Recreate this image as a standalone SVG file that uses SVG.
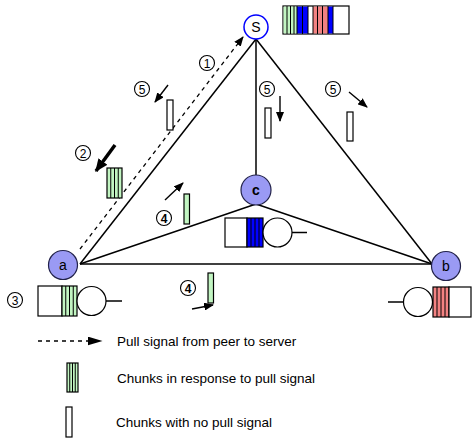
<svg xmlns="http://www.w3.org/2000/svg" width="472" height="441" viewBox="0 0 472 441">
  <style>
    .edge { stroke: #000; stroke-width: 1.5; fill: none; }
    .dash { stroke: #000; stroke-width: 1.3; fill: none; stroke-dasharray: 4 4; }
    .arr { stroke: #000; stroke-width: 1.4; fill: none; }
    .peer { fill: #9a9af4; stroke: #22224a; stroke-width: 1.2; }
    .srv { fill: #fff; stroke: #0000ff; stroke-width: 1.5; }
    .lbl { font-family: "Liberation Sans", Arial, sans-serif; font-size: 14px; text-anchor: middle; fill: #000; }
    .num { fill: #fff; stroke: #000; stroke-width: 1.1; }
    .numt { font-family: "Liberation Sans", Arial, sans-serif; font-size: 12px; text-anchor: middle; fill: #000; }
    .box { fill: #fff; stroke: #000; stroke-width: 1.2; }
    .g { fill: #c2f5c2; }
    .b { fill: #0000ff; }
    .r { fill: #f28282; }
    .div { stroke: #000; stroke-width: 1; }
    .legend { font-family: "Liberation Sans", Arial, sans-serif; font-size: 13.5px; fill: #000; }
  </style>
  <defs>
    <marker id="head" viewBox="0 0 10 10" refX="9" refY="5" markerWidth="10" markerHeight="8" orient="auto" markerUnits="userSpaceOnUse" preserveAspectRatio="none">
      <path d="M0,0 L10,5 L0,10 z" fill="#000"/>
    </marker>
    <marker id="headBig" viewBox="0 0 10 10" refX="9" refY="5" markerWidth="13" markerHeight="11" orient="auto" markerUnits="userSpaceOnUse" preserveAspectRatio="none">
      <path d="M0,0 L10,5 L0,10 z" fill="#000"/>
    </marker>
    <marker id="headLeg" viewBox="0 0 10 10" refX="9" refY="5" markerWidth="15" markerHeight="9" orient="auto" markerUnits="userSpaceOnUse" preserveAspectRatio="none">
      <path d="M0,0 L10,5 L0,10 z" fill="#000"/>
    </marker>
  </defs>

  <rect width="472" height="441" fill="#fff"/>

  <!-- links between server and peers -->
  <g id="connectors">
    <line class="edge" x1="256" y1="39" x2="80" y2="264"/>
    <line class="edge" x1="256" y1="39" x2="432" y2="264"/>
    <line class="edge" x1="256" y1="39" x2="256" y2="175"/>
    <line class="edge" x1="80" y1="264" x2="432" y2="264"/>
    <line class="edge" x1="80" y1="264" x2="256" y2="204"/>
    <line class="edge" x1="432" y1="264" x2="256" y2="204"/>
    <!-- pull request from a to S -->
    <line class="dash" x1="80" y1="249" x2="243" y2="37" marker-end="url(#head)"/>
    <!-- chunk direction arrows -->
    <line class="arr" x1="168" y1="85" x2="155" y2="102" marker-end="url(#head)"/>
    <line x1="115" y1="145" x2="96" y2="171" stroke="#000" stroke-width="3.5" marker-end="url(#headBig)"/>
    <line class="arr" x1="280" y1="96" x2="280" y2="121" marker-end="url(#head)"/>
    <line class="arr" x1="349" y1="92" x2="367" y2="107" marker-end="url(#head)"/>
    <line class="arr" x1="165" y1="200" x2="183" y2="183" marker-end="url(#head)"/>
    <line class="arr" x1="192" y1="309" x2="213" y2="305" marker-end="url(#head)"/>
  </g>

  <!-- server S and its buffer -->
  <g id="node-S">
    <circle class="srv" cx="256" cy="27" r="12"/>
    <text class="lbl" x="256" y="32">S</text>
    <rect class="box" x="283" y="6" width="66" height="28"/>
    <rect class="g" x="283.6" y="6.6" width="13.4" height="26.8"/>
    <rect class="b" x="297" y="6.6" width="11" height="26.8"/>
    <rect class="r" x="313" y="6.6" width="15" height="26.8"/>
    <rect class="b" x="328" y="6.6" width="5" height="26.8"/>
    <g class="div">
      <line x1="287" y1="6" x2="287" y2="34"/>
      <line x1="290.5" y1="6" x2="290.5" y2="34"/>
      <line x1="294" y1="6" x2="294" y2="34"/>
      <line x1="297" y1="6" x2="297" y2="34"/>
      <line x1="302.5" y1="6" x2="302.5" y2="34"/>
      <line x1="308" y1="6" x2="308" y2="34"/>
      <line x1="313" y1="6" x2="313" y2="34"/>
      <line x1="317.5" y1="6" x2="317.5" y2="34"/>
      <line x1="322.5" y1="6" x2="322.5" y2="34"/>
      <line x1="328" y1="6" x2="328" y2="34"/>
      <line x1="333" y1="6" x2="333" y2="34"/>
    </g>
  </g>

  <!-- peer a and its buffer -->
  <g id="node-a">
    <circle class="peer" cx="63" cy="265" r="14.5"/>
    <text class="lbl" x="63" y="270">a</text>
    <rect class="box" x="38" y="286" width="24" height="30"/>
    <rect class="box g" x="62" y="286" width="15" height="30"/>
    <g class="div">
      <line x1="65.75" y1="286" x2="65.75" y2="316"/>
      <line x1="69.5" y1="286" x2="69.5" y2="316"/>
      <line x1="73.25" y1="286" x2="73.25" y2="316"/>
    </g>
    <circle class="box" cx="91.5" cy="301" r="14.5"/>
    <line class="edge" x1="106" y1="301" x2="122" y2="301"/>
  </g>

  <!-- peer b and its buffer -->
  <g id="node-b">
    <circle class="peer" cx="446" cy="266" r="14.5"/>
    <text class="lbl" x="446" y="271">b</text>
    <line class="edge" x1="388" y1="302" x2="403.5" y2="302"/>
    <circle class="box" cx="418" cy="302" r="14.5"/>
    <rect class="box r" x="433" y="287" width="16" height="30"/>
    <rect class="box" x="449" y="287" width="22" height="30"/>
    <g class="div">
      <line x1="437" y1="287" x2="437" y2="317"/>
      <line x1="441" y1="287" x2="441" y2="317"/>
      <line x1="445" y1="287" x2="445" y2="317"/>
    </g>
  </g>

  <!-- peer c and its buffer -->
  <g id="node-c">
    <circle class="peer" cx="256" cy="190" r="15"/>
    <text class="lbl" x="256" y="195" font-weight="bold">c</text>
    <rect class="box" x="225" y="218" width="22" height="29"/>
    <rect class="box b" x="247" y="218" width="16" height="29"/>
    <g class="div">
      <line x1="251" y1="218" x2="251" y2="247"/>
      <line x1="255" y1="218" x2="255" y2="247"/>
      <line x1="259" y1="218" x2="259" y2="247"/>
    </g>
    <circle class="box" cx="277.5" cy="232.5" r="14.5"/>
    <line class="edge" x1="292" y1="232.5" x2="307" y2="232.5"/>
  </g>

  <!-- chunks in transit -->
  <g id="chunk-2">
    <rect class="box g" x="107" y="168" width="15" height="30"/>
    <g class="div">
      <line x1="110.75" y1="168" x2="110.75" y2="198"/>
      <line x1="114.5" y1="168" x2="114.5" y2="198"/>
      <line x1="118.25" y1="168" x2="118.25" y2="198"/>
    </g>
  </g>
  <g id="chunk-5a"><rect class="box" x="167" y="100" width="6" height="30"/></g>
  <g id="chunk-5b"><rect class="box" x="265" y="108" width="6" height="30"/></g>
  <g id="chunk-5c"><rect class="box" x="347" y="112" width="6" height="29"/></g>
  <g id="chunk-4a"><rect class="box g" x="184" y="194" width="5.5" height="30"/></g>
  <g id="chunk-4b"><rect class="box g" x="208" y="273" width="5.5" height="30"/></g>

  <!-- step numbers -->
  <g id="steps">
    <circle class="num" cx="207" cy="63" r="7.5"/><text class="numt" x="207" y="67.5">1</text>
    <circle class="num" cx="83" cy="153" r="7.5"/><text class="numt" x="83" y="157.5">2</text>
    <circle class="num" cx="15" cy="300" r="7.5"/><text class="numt" x="15" y="304.5">3</text>
    <circle class="num" cx="164" cy="218" r="7.5"/><text class="numt" x="164" y="222.5" font-weight="bold">4</text>
    <circle class="num" cx="188" cy="288" r="7.5"/><text class="numt" x="188" y="292.5" font-weight="bold">4</text>
    <circle class="num" cx="142" cy="89" r="7.5"/><text class="numt" x="142" y="93.5">5</text>
    <circle class="num" cx="267" cy="89" r="7.5"/><text class="numt" x="267" y="93.5">5</text>
    <circle class="num" cx="333" cy="89" r="7.5"/><text class="numt" x="333" y="93.5">5</text>
  </g>

  <!-- legend -->
  <g id="legend">
    <line class="dash" x1="38" y1="341" x2="101" y2="341" stroke-dasharray="4 3.5" marker-end="url(#headLeg)"/>
    <text class="legend" x="117" y="346">Pull signal from peer to server</text>
    <rect class="box g" x="67" y="363" width="11" height="29"/>
    <g class="div">
      <line x1="69.75" y1="363" x2="69.75" y2="392"/>
      <line x1="72.5" y1="363" x2="72.5" y2="392"/>
      <line x1="75.25" y1="363" x2="75.25" y2="392"/>
    </g>
    <text class="legend" x="117" y="383">Chunks in response to pull signal</text>
    <rect class="box" x="66" y="407" width="6" height="30"/>
    <text class="legend" x="116" y="427">Chunks with no pull signal</text>
  </g>
</svg>
